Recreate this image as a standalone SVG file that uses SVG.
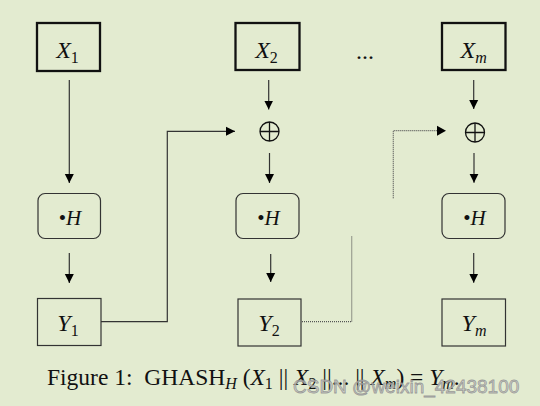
<svg xmlns="http://www.w3.org/2000/svg" width="540" height="406" viewBox="0 0 540 406">
<defs>
<marker id="ah" viewBox="0 0 10 10" refX="10" refY="5" markerUnits="userSpaceOnUse" markerWidth="9" markerHeight="10" orient="auto">
<path d="M0,0 L10,5 L0,10 z" fill="#000"/>
</marker>
</defs>
<style>
.bg{fill:#e3ebd0}
.thick{fill:none;stroke:#111;stroke-width:2.3}
.thin{fill:none;stroke:#333;stroke-width:1.2}
.conn{fill:none;stroke:#333;stroke-width:1.2}
.dot{fill:none;stroke:#555;stroke-width:1.2;stroke-dasharray:1 1}
.lbl{font-family:"Liberation Serif",serif;font-size:24px;fill:#111}
.it{font-style:italic}
.sub{font-size:16px}
.hl{font-family:"Liberation Serif",serif;font-size:21px;fill:#111}
.cap{font-family:"Liberation Serif",serif;font-size:23.5px;fill:#111}
.xor{fill:none;stroke:#111;stroke-width:1.3}
</style>
<rect class="bg" x="0" y="0" width="540" height="406"/>
<g id="X1"><rect class="thick" x="37" y="23" width="63" height="48"/><text class="lbl" x="67.5" y="57.5" text-anchor="middle"><tspan class="it">X</tspan><tspan class="sub" dy="5">1</tspan></text></g>
<g id="X2"><rect class="thick" x="235.5" y="23" width="64" height="47"/><text class="lbl" x="266.5" y="57.5" text-anchor="middle"><tspan class="it">X</tspan><tspan class="sub" dy="5">2</tspan></text></g>
<g id="Xm"><rect class="thick" x="442" y="23" width="63.5" height="47"/><text class="lbl" x="473.7" y="57.5" text-anchor="middle"><tspan class="it">X</tspan><tspan class="sub it" dy="5">m</tspan></text></g>
<g id="dots"><text class="lbl" x="365" y="59" text-anchor="middle">...</text></g>
<g id="XOR2"><circle class="xor" cx="269.5" cy="131.5" r="9.5"/><path class="xor" d="M260,131.5 H279 M269.5,122 V141"/></g>
<g id="XORm"><circle class="xor" cx="475" cy="132.5" r="9.5"/><path class="xor" d="M465.5,132.5 H484.5 M475,123 V142"/></g>
<g id="H1"><rect class="thin" x="38" y="193.5" width="62.5" height="45" rx="7"/><text class="hl" x="70" y="225" text-anchor="middle">•<tspan class="it">H</tspan></text></g>
<g id="H2"><rect class="thin" x="236" y="193.5" width="63" height="45" rx="7"/><text class="hl" x="268.5" y="225" text-anchor="middle">•<tspan class="it">H</tspan></text></g>
<g id="Hm"><rect class="thin" x="442" y="193.5" width="63" height="45" rx="7"/><text class="hl" x="474.5" y="225" text-anchor="middle">•<tspan class="it">H</tspan></text></g>
<g id="Y1"><rect class="thin" x="37.5" y="298.5" width="63.5" height="47"/><text class="lbl" x="68" y="331" text-anchor="middle"><tspan class="it">Y</tspan><tspan class="sub" dy="5">1</tspan></text></g>
<g id="Y2"><rect class="thin" x="238" y="299" width="63" height="47"/><text class="lbl" x="269" y="331" text-anchor="middle"><tspan class="it">Y</tspan><tspan class="sub" dy="5">2</tspan></text></g>
<g id="Ym"><rect class="thin" x="442" y="299" width="63.5" height="47"/><text class="lbl" x="474" y="331" text-anchor="middle"><tspan class="it">Y</tspan><tspan class="sub it" dy="5">m</tspan></text></g>
<g id="connectors">
<path class="conn" d="M69.3,80 V183" marker-end="url(#ah)"/>
<path class="conn" d="M69.3,253 V283" marker-end="url(#ah)"/>
<path class="conn" d="M101,321.7 H167.3 V131.3 H235" marker-end="url(#ah)"/>
<path class="conn" d="M268.7,80 V109.5" marker-end="url(#ah)"/>
<path class="conn" d="M269.5,153 V183" marker-end="url(#ah)"/>
<path class="conn" d="M270.7,254 V282" marker-end="url(#ah)"/>
<path class="dot" d="M302,321.7 H351.7 V236"/>
<path class="dot" d="M393.3,198.3 V130.7 H437"/>
<path d="M437,125.7 L446,130.7 L437,135.7 z" fill="#000"/>
<path class="conn" d="M473.7,80 V109" marker-end="url(#ah)"/>
<path class="conn" d="M474,153 V182.7" marker-end="url(#ah)"/>
<path class="conn" d="M473.7,253 V282.7" marker-end="url(#ah)"/>
</g>
<g id="caption">
<text class="cap" x="47" y="385" xml:space="preserve">Figure 1:  GHASH<tspan class="it sub" dy="4">H</tspan><tspan dy="-4"> (</tspan><tspan class="it">X</tspan><tspan class="sub" dy="4">1</tspan><tspan dy="-4"> || </tspan><tspan class="it">X</tspan><tspan class="sub" dy="4">2</tspan><tspan dy="-4"> ||... || </tspan><tspan class="it">X</tspan><tspan class="sub it" dy="4">m</tspan><tspan dy="-4">) = </tspan><tspan class="it">Y</tspan><tspan class="sub it" dy="4">m</tspan><tspan dy="-4">.</tspan></text>
</g>
<g id="watermark">
<text x="293" y="392.5" font-family="Liberation Sans, Arial, sans-serif" font-size="19" fill="#c8c8c8" fill-opacity="0.75" stroke="#8a8a8a" stroke-width="0.8" stroke-opacity="0.8">CSDN @weixin_42438100</text>
</g>
</svg>
